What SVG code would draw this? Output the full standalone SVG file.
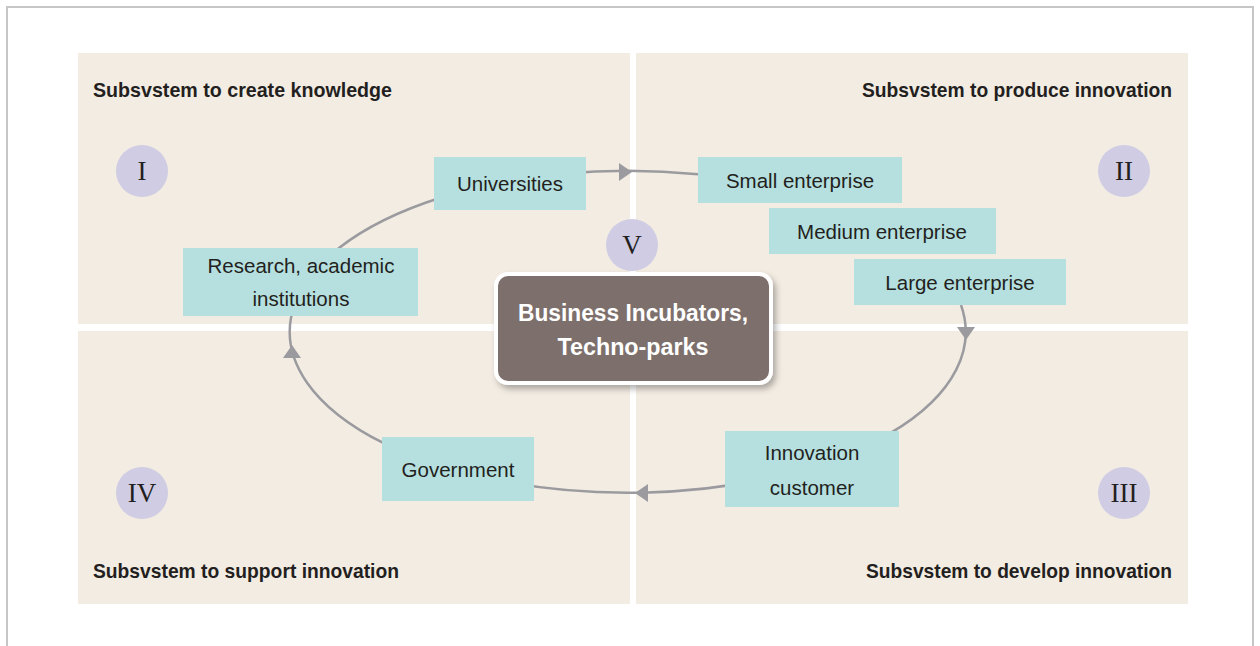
<svg xmlns="http://www.w3.org/2000/svg" width="1260" height="646" viewBox="0 0 1260 646">
  <defs>
    <style>
      .quad { fill: #f3ece3; }
      .box { fill: #b5e0df; }
      .num { fill: #cfcce4; }
      .numtxt { font-family: "Liberation Serif", serif; font-size: 27px; fill: #231f20; text-anchor: middle; }
      .title { font-family: "Liberation Sans", Arial, sans-serif; font-size: 21px; font-weight: bold; fill: #231f20; }
      .lbl { font-family: "Liberation Sans", Arial, sans-serif; font-size: 20.5px; fill: #231f20; text-anchor: middle; }
      .ctr { font-family: "Liberation Sans", Arial, sans-serif; font-size: 23px; font-weight: bold; fill: #ffffff; text-anchor: middle; }
      .loop { fill: none; stroke: #9b9b9f; stroke-width: 2.5; }
      .head { fill: #9b9b9f; }
    </style>
    <path id="arrowhead" d="M0,0 L-13,-9 L-13,9 Z"/>
    <filter id="shadow" x="-10%" y="-20%" width="125%" height="150%">
      <feDropShadow dx="3" dy="4" stdDeviation="3" flood-color="#000000" flood-opacity="0.3"/>
    </filter>
  </defs>

  <rect x="0" y="0" width="1260" height="646" fill="#ffffff"/>
  <path d="M7,660 V7 H1253 V660" fill="none" stroke="#c6c6c6" stroke-width="2"/>

  <g id="quadrants">
    <rect class="quad" x="78" y="53" width="552" height="271"/>
    <rect class="quad" x="636" y="53" width="552" height="271"/>
    <rect class="quad" x="78" y="331" width="552" height="273"/>
    <rect class="quad" x="636" y="331" width="552" height="273"/>
  </g>

  <g id="titles">
    <text class="title" x="93" y="97" textLength="299" lengthAdjust="spacingAndGlyphs">Subsvstem to create knowledge</text>
    <text class="title" x="862" y="97" textLength="310" lengthAdjust="spacingAndGlyphs">Subsvstem to produce innovation</text>
    <text class="title" x="93" y="578" textLength="306" lengthAdjust="spacingAndGlyphs">Subsvstem to support innovation</text>
    <text class="title" x="866" y="578" textLength="306" lengthAdjust="spacingAndGlyphs">Subsvstem to develop innovation</text>
  </g>

  <g id="numerals">
    <g id="num-I"><circle class="num" cx="142" cy="171" r="26"/><text class="numtxt" x="142" y="180">I</text></g>
    <g id="num-II"><circle class="num" cx="1124" cy="171" r="26"/><text class="numtxt" x="1124" y="180">II</text></g>
    <g id="num-III"><circle class="num" cx="1124" cy="493" r="26"/><text class="numtxt" x="1124" y="502">III</text></g>
    <g id="num-IV"><circle class="num" cx="142" cy="493" r="26"/><text class="numtxt" x="142" y="502">IV</text></g>
    <g id="num-V"><circle class="num" cx="632" cy="245" r="26"/><text class="numtxt" x="632" y="254">V</text></g>
  </g>

  <g id="connectors">
    <path class="loop" d="M698,174.3 A338,161 0 1 0 961,305"/>
    <use href="#arrowhead" class="head" transform="translate(632,172)"/>
    <use href="#arrowhead" class="head" transform="translate(966,340) rotate(90)"/>
    <use href="#arrowhead" class="head" transform="translate(635,493) rotate(180)"/>
    <use href="#arrowhead" class="head" transform="translate(292,345) rotate(-90)"/>
  </g>

  <g id="node-universities">
    <rect class="box" x="434" y="157" width="152" height="53"/>
    <text class="lbl" x="510" y="191">Universities</text>
  </g>
  <g id="node-small">
    <rect class="box" x="698" y="157" width="204" height="46"/>
    <text class="lbl" x="800" y="188">Small enterprise</text>
  </g>
  <g id="node-medium">
    <rect class="box" x="769" y="208" width="227" height="46"/>
    <text class="lbl" x="882" y="239">Medium enterprise</text>
  </g>
  <g id="node-large">
    <rect class="box" x="854" y="259" width="212" height="46"/>
    <text class="lbl" x="960" y="290">Large enterprise</text>
  </g>
  <g id="node-research">
    <rect class="box" x="183" y="248" width="235" height="68"/>
    <text class="lbl" x="301" y="273">Research, academic</text>
    <text class="lbl" x="301" y="306">institutions</text>
  </g>
  <g id="node-government">
    <rect class="box" x="382" y="437" width="152" height="64"/>
    <text class="lbl" x="458" y="477">Government</text>
  </g>
  <g id="node-customer">
    <rect class="box" x="725" y="431" width="174" height="76"/>
    <text class="lbl" x="812" y="460">Innovation</text>
    <text class="lbl" x="812" y="495">customer</text>
  </g>

  <g id="node-center">
    <rect x="496" y="274" width="275" height="109" rx="12" ry="12" fill="#7d6f6c" stroke="#ffffff" stroke-width="4" filter="url(#shadow)"/>
    <text class="ctr" x="633" y="321" textLength="230" lengthAdjust="spacingAndGlyphs">Business Incubators,</text>
    <text class="ctr" x="633" y="355" textLength="151" lengthAdjust="spacingAndGlyphs">Techno-parks</text>
  </g>
</svg>
